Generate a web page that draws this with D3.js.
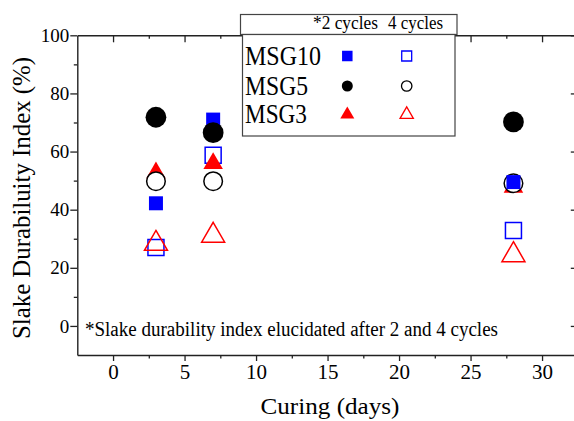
<!DOCTYPE html>
<html>
<head>
<meta charset="utf-8">
<script src="https://cdn.jsdelivr.net/npm/d3@7"></script>
<style>
  body { margin: 0; background: #fff; }
  svg { display: block; }
  text { font-family: "Liberation Serif", "Times New Roman", serif; fill: #000; }
</style>
</head>
<body>
<div id="chart"></div>
<script>
// curing days
var days = [3, 7, 28];
// slake durability index (%) after 2 and 4 cycles
var msg10Cycle2 = [42.2, 71.0, 49.5];
var msg10Cycle4 = [27.0, 58.7, 32.8];
var msg5Cycle2 = [71.8, 66.5, 70.2];
var msg5Cycle4 = [49.8, 49.8, 49.1];
var msg3Cycle2 = [52.7, 55.9, 47.8];
var msg3Cycle4 = [28.3, 31.1, 24.4];

var xTicks = [0, 5, 10, 15, 20, 25, 30];
var xMinorTicks = [2.5, 7.5, 12.5, 17.5, 22.5, 27.5];
var yTicks = [0, 20, 40, 60, 80, 100];
var yMinorTicks = [10, 30, 50, 70, 90];
var legendNames = ["MSG10", "MSG5", "MSG3"];

var width = 574,
    height = 421,
    plot = { left: 77.3, right: 577.8, top: 35.3, bottom: 355 },
    axisColor = "#222";

var svg = d3.select("#chart").append("svg")
    .attr("width", width)
    .attr("height", height);

var x = d3.scaleLinear().domain([-2.5, 32.5]).range([plot.left, plot.right]);
var y = d3.scaleLinear().domain([-10, 100]).range([plot.bottom, plot.top]);

function styleAxis(g, fontSize) {
    g.selectAll("path.domain").attr("stroke", axisColor).attr("stroke-width", 1.4);
    g.selectAll(".tick line").attr("stroke", axisColor).attr("stroke-width", 1.3);
    g.selectAll(".tick text")
        .attr("font-size", fontSize)
        .attr("fill", "#000");
}

// left axis, ticks outward
var leftAxis = svg.append("g")
    .attr("transform", "translate(" + plot.left + ",0)")
    .call(d3.axisLeft(y).tickValues(yTicks).tickSize(7).tickSizeOuter(0).tickPadding(1));
styleAxis(leftAxis, 19);
var leftMinor = svg.append("g")
    .attr("transform", "translate(" + plot.left + ",0)")
    .call(d3.axisLeft(y).tickValues(yMinorTicks).tickSize(3.5).tickFormat(""));
leftMinor.select("path.domain").remove();
styleAxis(leftMinor, 19);

// bottom axis, ticks outward
var bottomAxis = svg.append("g")
    .attr("transform", "translate(0," + plot.bottom + ")")
    .call(d3.axisBottom(x).tickValues(xTicks).tickSize(6).tickSizeOuter(0).tickPadding(3));
styleAxis(bottomAxis, 21);
var bottomMinor = svg.append("g")
    .attr("transform", "translate(0," + plot.bottom + ")")
    .call(d3.axisBottom(x).tickValues(xMinorTicks).tickSize(3.5).tickFormat(""));
bottomMinor.select("path.domain").remove();
styleAxis(bottomMinor, 21);

// top axis, ticks inward
var topAxis = svg.append("g")
    .attr("transform", "translate(0," + plot.top + ")")
    .call(d3.axisBottom(x).tickValues(xTicks).tickSize(7).tickSizeOuter(0).tickFormat(""));
styleAxis(topAxis, 0);
var topMinor = svg.append("g")
    .attr("transform", "translate(0," + plot.top + ")")
    .call(d3.axisBottom(x).tickValues(xMinorTicks).tickSize(3.5).tickFormat(""));
topMinor.select("path.domain").remove();
styleAxis(topMinor, 0);

// right axis, ticks inward
var rightAxis = svg.append("g")
    .attr("transform", "translate(" + plot.right + ",0)")
    .call(d3.axisLeft(y).tickValues(yTicks).tickSize(7).tickSizeOuter(0).tickFormat(""));
styleAxis(rightAxis, 0);
var rightMinor = svg.append("g")
    .attr("transform", "translate(" + plot.right + ",0)")
    .call(d3.axisLeft(y).tickValues(yMinorTicks).tickSize(3.5).tickFormat(""));
rightMinor.select("path.domain").remove();
styleAxis(rightMinor, 0);

// axis titles
svg.append("text")
    .attr("x", 330)
    .attr("y", 414)
    .attr("text-anchor", "middle")
    .attr("font-size", 24)
    .attr("textLength", 139)
    .attr("lengthAdjust", "spacingAndGlyphs")
    .text("Curing (days)");

svg.append("text")
    .attr("transform", "translate(30,198) rotate(-90)")
    .attr("text-anchor", "middle")
    .attr("font-size", 25)
    .attr("textLength", 282)
    .attr("lengthAdjust", "spacingAndGlyphs")
    .text("Slake Durabiluity Index (%)");

// note inside plot
svg.append("text")
    .attr("x", 85)
    .attr("y", 336)
    .attr("font-size", 20)
    .attr("textLength", 413)
    .attr("lengthAdjust", "spacingAndGlyphs")
    .text("*Slake durability index elucidated after 2 and 4 cycles");

// marker helpers
function triSize(w) {
    var r = w / (2 * Math.sqrt(3));
    return 3 * Math.sqrt(3) * r * r;
}
var sym = {
    square: d3.symbolSquare,
    circle: d3.symbolCircle,
    triangle: d3.symbolTriangle
};

function drawSeries(values, shape, size, color, filled, fillOpen) {
    svg.append("g").selectAll("path")
        .data(values)
        .enter()
        .append("path")
        .attr("transform", function (d, i) {
            return "translate(" + x(days[i]) + "," + y(d) + ")";
        })
        .attr("d", d3.symbol().type(sym[shape]).size(size))
        .attr("fill", filled ? color : fillOpen)
        .attr("stroke", filled ? "none" : color)
        .attr("stroke-width", 1.5);
}

// draw order follows the overlaps in the figure
drawSeries(msg10Cycle4, "square", 16 * 16, "#0000ff", false, "none");
drawSeries(msg3Cycle4, "triangle", triSize(23), "#ff0000", false, "none");
drawSeries(msg3Cycle2, "triangle", triSize(19.5), "#ff0000", true);
drawSeries(msg5Cycle4, "circle", Math.PI * 9.3 * 9.3, "#000", false, "#fff");
drawSeries(msg10Cycle2, "square", 14 * 14, "#0000ff", true);
drawSeries(msg5Cycle2, "circle", Math.PI * 10.4 * 10.4, "#000", true);

// legend
var legend = svg.append("g");
legend.append("rect")
    .attr("x", 240.5).attr("y", 14.5)
    .attr("width", 216.5).attr("height", 20)
    .attr("fill", "#fff").attr("stroke", "#444").attr("stroke-width", 1.2);
legend.append("rect")
    .attr("x", 242.5).attr("y", 34.5)
    .attr("width", 212.5).attr("height", 101.5)
    .attr("fill", "#fff").attr("stroke", "#444").attr("stroke-width", 1.2);

legend.append("text")
    .attr("x", 313)
    .attr("y", 29)
    .attr("font-size", 19)
    .attr("textLength", 65)
    .attr("lengthAdjust", "spacingAndGlyphs")
    .text("*2 cycles");
legend.append("text")
    .attr("x", 388)
    .attr("y", 29)
    .attr("font-size", 19)
    .attr("textLength", 55)
    .attr("lengthAdjust", "spacingAndGlyphs")
    .text("4 cycles");

var rowY = [56, 86, 114.5];
var labelWidths = [76, 63, 62];
legendNames.forEach(function (name, i) {
    legend.append("text")
        .attr("x", 245)
        .attr("y", rowY[i] + 8.5)
        .attr("font-size", 27)
        .attr("textLength", labelWidths[i])
        .attr("lengthAdjust", "spacingAndGlyphs")
        .text(name);
});

var legendMarks = [
    { shape: "square", size: 10.5 * 10.5, color: "#0000ff" },
    { shape: "circle", size: Math.PI * 5.5 * 5.5, color: "#000" },
    { shape: "triangle", size: triSize(14), color: "#ff0000" }
];
legendMarks.forEach(function (m, i) {
    legend.append("path")
        .attr("transform", "translate(347.3," + rowY[i] + ")")
        .attr("d", d3.symbol().type(sym[m.shape]).size(m.size))
        .attr("fill", m.color);
    legend.append("path")
        .attr("transform", "translate(406.7," + rowY[i] + ")")
        .attr("d", d3.symbol().type(sym[m.shape]).size(m.size * 0.9))
        .attr("fill", "#fff")
        .attr("stroke", m.color)
        .attr("stroke-width", 1.3);
});
</script>
</body>
</html>
